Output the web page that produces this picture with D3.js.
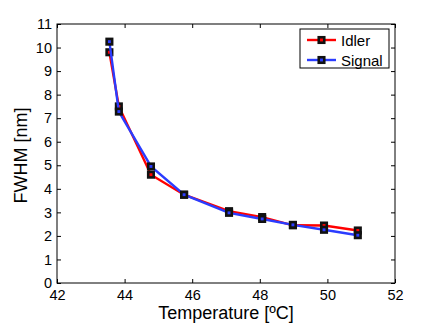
<!DOCTYPE html>
<html>
<head>
<meta charset="utf-8">
<script src="https://cdn.jsdelivr.net/npm/d3@7"></script>
<style>
body { margin: 0; background: #fff; }
svg { font-family: "Liberation Sans", Arial, sans-serif; display: block; }
</style>
</head>
<body>
<svg></svg>
<script>
// temperatures (ºC) and FWHM (nm)
var temps  = [43.55, 43.83, 44.78, 45.76, 47.09, 48.07, 48.98, 49.90, 50.90];
var idler  = [9.80, 7.50, 4.60, 3.75, 3.05, 2.80, 2.45, 2.44, 2.23];
var signal = [10.25, 7.28, 4.95, 3.75, 2.98, 2.72, 2.47, 2.26, 2.03];
var seriesNames = ["Idler", "Signal"];
var seriesColors = ["#ff0000", "#2b3cff"];
var xTicks = [42, 44, 46, 48, 50, 52];
var yTicks = [0, 1, 2, 3, 4, 5, 6, 7, 8, 9, 10, 11];

var w = 436, h = 325;
var plotL = 57, plotR = 395, plotT = 24, plotB = 283;

var svg = d3.select("svg").attr("width", w).attr("height", h);

var x = d3.scaleLinear().domain([42, 52]).range([plotL, plotR]);
var y = d3.scaleLinear().domain([0, 11]).range([plotB, plotT]);

// frame
svg.append("rect")
    .attr("x", plotL).attr("y", plotT)
    .attr("width", plotR - plotL).attr("height", plotB - plotT)
    .attr("fill", "none").attr("stroke", "#000").attr("stroke-width", 1);

var tickLen = 4;
function styleAxis(g) {
    g.select(".domain").remove();
    g.selectAll("line").attr("stroke", "#000");
    g.selectAll("text").attr("fill", "#000").attr("font-size", "14.5px")
        .attr("font-family", "Liberation Sans, Arial, sans-serif");
}

svg.append("g").attr("transform", "translate(0," + plotB + ")")
    .call(d3.axisBottom(x).tickValues(xTicks).tickSize(-tickLen).tickPadding(tickLen + 3))
    .call(styleAxis);
svg.append("g").attr("transform", "translate(0," + plotT + ")")
    .call(d3.axisTop(x).tickValues(xTicks).tickSize(-tickLen).tickFormat(""))
    .call(styleAxis);
svg.append("g").attr("transform", "translate(" + plotL + ",0)")
    .call(d3.axisLeft(y).tickValues(yTicks).tickSize(-tickLen).tickPadding(tickLen + 1))
    .call(styleAxis);
svg.append("g").attr("transform", "translate(" + plotR + ",0)")
    .call(d3.axisRight(y).tickValues(yTicks).tickSize(-tickLen).tickFormat(""))
    .call(styleAxis);

// axis titles
svg.append("text")
    .attr("x", (plotL + plotR) / 2).attr("y", 319)
    .attr("text-anchor", "middle").attr("font-size", "18px")
    .text("Temperature [ºC]");
svg.append("text")
    .attr("transform", "translate(27," + ((plotT + plotB) / 2 + 2) + ") rotate(-90)")
    .attr("text-anchor", "middle").attr("font-size", "18px")
    .text("FWHM [nm]");

var line = d3.line()
    .x(function (d) { return x(d[0]); })
    .y(function (d) { return y(d[1]); });

function marker(g, cx, cy, color) {
    g.append("rect")
        .attr("x", cx - 2.75).attr("y", cy - 2.75)
        .attr("width", 5.5).attr("height", 5.5)
        .attr("fill", color).attr("stroke", "#111").attr("stroke-width", 2.6);
}

[idler, signal].forEach(function (vals, i) {
    var pts = temps.map(function (t, j) { return [t, vals[j]]; });
    var g = svg.append("g");
    g.append("path")
        .datum(pts)
        .attr("d", line)
        .attr("fill", "none")
        .attr("stroke", seriesColors[i])
        .attr("stroke-width", 2.4);
    pts.forEach(function (p) {
        marker(g, x(p[0]), y(p[1]), seriesColors[i]);
    });
});

// legend
var lg = svg.append("g");
lg.append("rect")
    .attr("x", 300).attr("y", 29).attr("width", 89).attr("height", 39)
    .attr("fill", "#fff").attr("stroke", "#000").attr("stroke-width", 1);
seriesNames.forEach(function (name, i) {
    var ly = 40 + i * 20;
    lg.append("line")
        .attr("x1", 307).attr("x2", 336).attr("y1", ly).attr("y2", ly)
        .attr("stroke", seriesColors[i]).attr("stroke-width", 2.4);
    marker(lg, 321.5, ly, seriesColors[i]);
    lg.append("text")
        .attr("x", 341).attr("y", ly + 5.5)
        .attr("font-size", "15px")
        .text(name);
});
</script>
</body>
</html>
